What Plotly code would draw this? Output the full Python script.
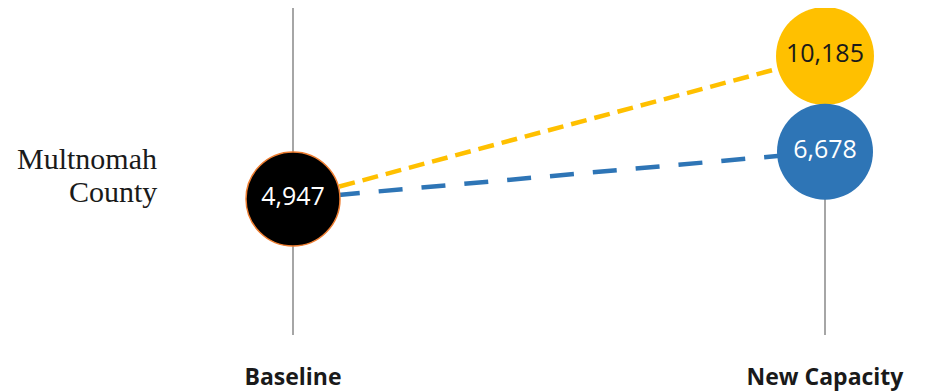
import plotly.graph_objects as go

categories = ["Baseline", "New Capacity"]
region_lines = ["Multnomah", "County"]
baseline_value = 4947
new_capacity_yellow = 10185
new_capacity_blue = 6678

fig = go.Figure()

# dashed connectors (drawn first, behind circles)
fig.add_trace(go.Scatter(
    x=categories, y=[baseline_value, new_capacity_yellow], mode="lines",
    line=dict(color="#FFC000", width=4.5, dash="16px,8px"),
    hoverinfo="skip", showlegend=False))
fig.add_trace(go.Scatter(
    x=categories, y=[baseline_value, new_capacity_blue], mode="lines",
    line=dict(color="#2E75B6", width=4.5, dash="24px,19px"),
    hoverinfo="skip", showlegend=False))

label_font = "Open Sans"
# circles
fig.add_trace(go.Scatter(
    x=[categories[1]], y=[new_capacity_yellow], mode="markers+text",
    marker=dict(size=98, color="#FFC000", line=dict(width=0)),
    text=[f"{new_capacity_yellow:,}"], textposition="middle center",
    textfont=dict(family=label_font, size=25, color="#1a1a1a"),
    hoverinfo="skip", showlegend=False))
fig.add_trace(go.Scatter(
    x=[categories[1]], y=[new_capacity_blue], mode="markers+text",
    marker=dict(size=96, color="#2E75B6", line=dict(width=0)),
    text=[f"{new_capacity_blue:,}"], textposition="middle center",
    textfont=dict(family=label_font, size=25, color="white"),
    hoverinfo="skip", showlegend=False))
fig.add_trace(go.Scatter(
    x=[categories[0]], y=[baseline_value], mode="markers+text",
    marker=dict(size=94, color="black", line=dict(width=1.5, color="#ED7D31")),
    text=[f"{baseline_value:,}"], textposition="middle center",
    textfont=dict(family=label_font, size=25, color="white"),
    hoverinfo="skip", showlegend=False))

plot_top, plot_bottom = 8, 392 - 57
def py(pix):
    return (plot_bottom - pix) / (plot_bottom - plot_top)

for txt, pix in zip(region_lines, [158, 191]):
    fig.add_annotation(
        x=159 / 929, xref="paper", y=py(pix), yref="paper",
        text=txt, showarrow=False,
        xanchor="right", yanchor="middle", align="right",
        font=dict(family="Liberation Serif", size=30, color="#1a1a1a"))

fig.update_layout(
    width=929, height=392,
    margin=dict(l=0, r=0, t=plot_top, b=392 - plot_bottom),
    paper_bgcolor="white", plot_bgcolor="white",
    xaxis=dict(
        type="category", categoryorder="array", categoryarray=categories,
        range=[-293 / 532, 636 / 532],
        showgrid=True, gridcolor="#A6A6A6", gridwidth=1.5,
        zeroline=False, showline=False, ticks="",
        tickfont=dict(family="Open Sans", size=23, color="#1a1a1a", weight="bold"),
        ticklabelstandoff=26,
    ),
    yaxis=dict(
        range=[-35, 11943], showgrid=False, zeroline=False,
        showticklabels=False, showline=False, ticks="",
    ),
)

fig.write_html("out.html")
